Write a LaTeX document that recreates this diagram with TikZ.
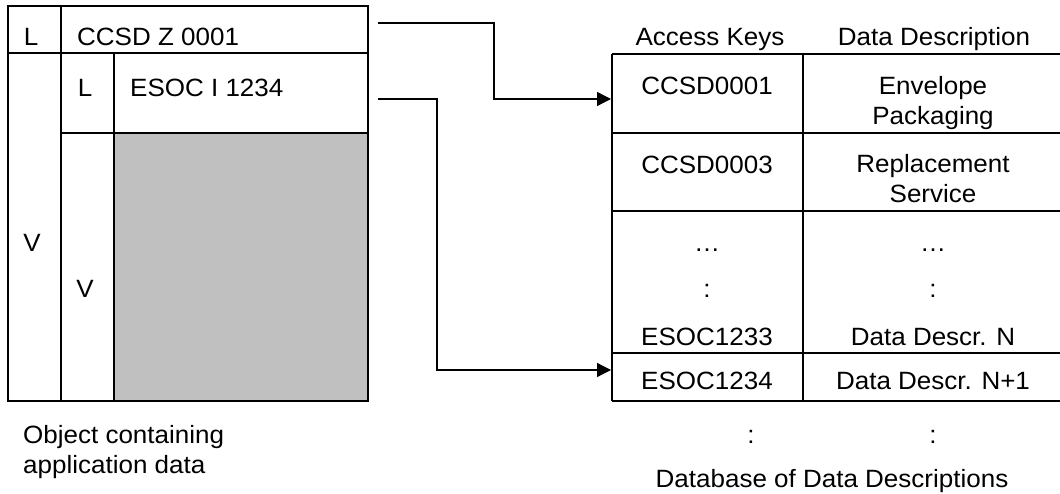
\documentclass[tikz,border=0pt]{standalone}
\usepackage{fontspec}
\setmainfont{Liberation Sans}[FakeStretch=1.04]
\usetikzlibrary{arrows.meta}
\definecolor{cellgray}{RGB}{192,192,192}
\begin{document}
\begin{tikzpicture}[x=1pt,y=-1pt,
  frame/.style={line width=2pt},
  conn/.style={line width=1.3pt,-{Triangle[length=14pt,width=14pt]}},
  lbl/.style={font=\fontsize{25}{30}\selectfont, inner sep=0pt, anchor=base},
  lblw/.style={lbl, anchor=base west}]
\useasboundingbox (0,0) rectangle (1060,494);
% ---------- left object ----------
\fill[cellgray] (114,133) rectangle (368,401);
\draw[frame] (8,6) rectangle (368,401);
\draw[frame] (8,53) -- (368,53);
\draw[frame] (61,6) -- (61,401);
\draw[frame] (114,53) -- (114,401);
\draw[frame] (61,133) -- (368,133);
\node[lbl]  (l1)  at (31,46) {L};
\node[lblw] (t1)  at (77,46) {CCSD Z 0001};
\node[lbl]  (l2)  at (85,97) {L};
\node[lblw] (t2)  at (130,97) {ESOC I 1234};
\node[lbl]  (v1)  at (32,252) {V};
\node[lbl]  (v2)  at (85,298) {V};
\node[lblw] (cap1) at (23,443) {Object containing};
\node[lblw] (cap2) at (23,473) {application data};
% ---------- table ----------
\foreach \yy in {54,133,211,353,401} \draw[frame] (612,\yy) -- (1060,\yy);
\draw[frame] (612,54) -- (612,401);
\draw[frame] (803,54) -- (803,401);
\node[lbl] (hk) at (710,46) {Access Keys};
\node[lbl] (hd) at (934,46) {Data Description};
\node[lbl] (k1) at (707,95) {CCSD0001};
\node[lbl] (d1a) at (933,95) {Envelope};
\node[lbl] (d1b) at (933,125) {Packaging};
\node[lbl] (k2) at (707,174) {CCSD0003};
\node[lbl] (d2a) at (933,173) {Replacement};
\node[lbl] (d2b) at (933,203) {Service};
\node[lbl] (k3) at (707,252) {…};
\node[lbl] (d3) at (933,252) {…};
\node[lbl] (k4) at (707,298) {:};
\node[lbl] (d4) at (933,298) {:};
\node[lbl] (k5) at (707,345) {ESOC1233};
\node[lbl] (d5) at (933,345) {Data Descr. N};
\node[lbl] (k6) at (707,389) {ESOC1234};
\node[lbl] (d6) at (933,389) {Data Descr. N+1};
\node[lbl] (k7) at (751,443) {:};
\node[lbl] (d7) at (933,443) {:};
\node[lbl] (db) at (832,487) {Database of Data Descriptions};
% ---------- connectors ----------
\coordinate (s1) at (378,23);
\coordinate (s2) at (378,99);
\coordinate (e1) at (611,99);
\coordinate (e2) at (611,370);
\draw[conn] (s1) -- (494,23) |- (e1);
\draw[conn] (s2) -- (437,99) |- (e2);
\end{tikzpicture}
\end{document}
